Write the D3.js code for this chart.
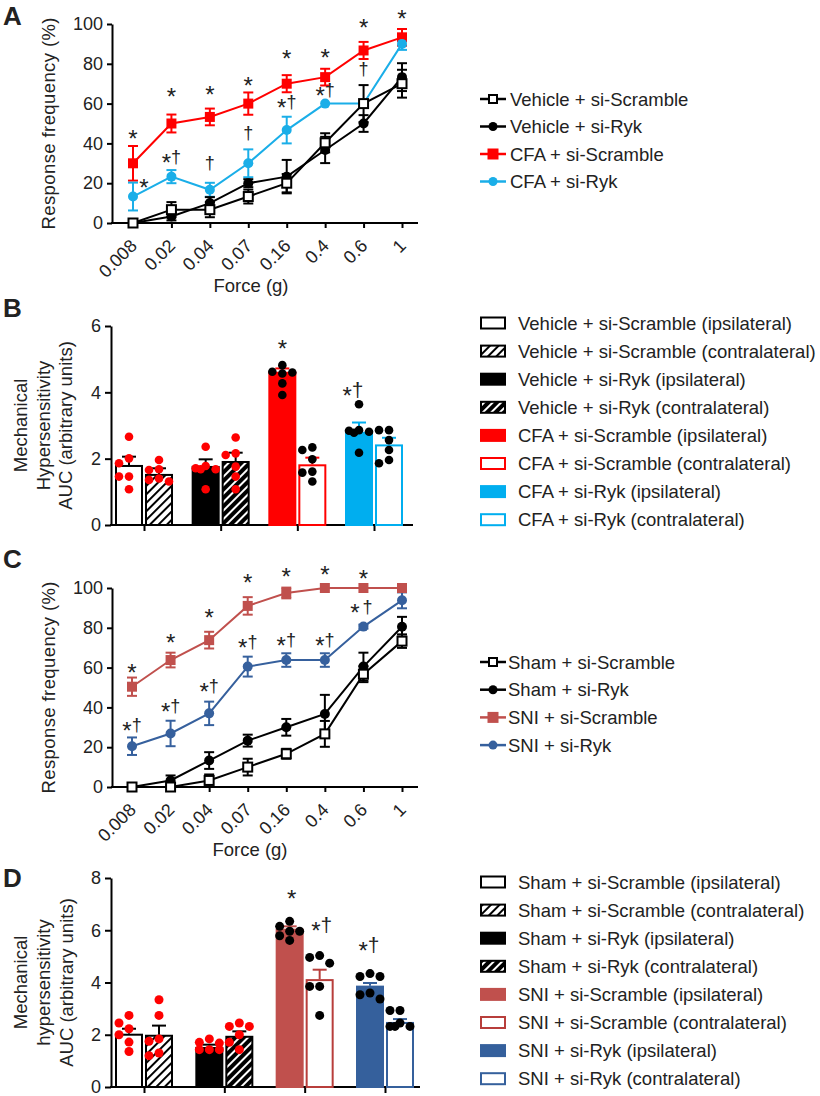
<!DOCTYPE html>
<html><head><meta charset="utf-8">
<script src="https://cdn.jsdelivr.net/npm/d3@7/dist/d3.min.js"></script>
<style>
html,body{margin:0;padding:0;background:#fff}
svg text{font-family:Arial,"Liberation Sans",Helvetica,sans-serif;fill:#222}
</style></head><body>
<svg id="chart" width="820" height="1096"></svg>
<script>
// ================= DATA =================
const forces = ["0.008","0.02","0.04","0.07","0.16","0.4","0.6","1"];
const lineYTicks = [0,20,40,60,80,100];

// Panel A (mean, SEM) - response frequency %
const aNames = ["Vehicle + si-Scramble","Vehicle + si-Ryk","CFA + si-Scramble","CFA + si-Ryk"];
const aVehScr    = [0, 6.7, 6.7, 13.3, 20, 40.3, 60, 70];
const aVehScrSem = [0, 3.8, 3.8, 3.5, 4.6, 4.8, 9.3, 7];
const aVehRyk    = [0, 3.3, 10, 20, 23.3, 36.7, 50, 73.3];
const aVehRykSem = [0, 2, 3, 2, 8.4, 6.6, 4.2, 7];
const aCfaScr    = [30, 50, 53.3, 60, 70, 73.3, 86.7, 93.3];
const aCfaScrSem = [8.7, 4.5, 4.2, 5.6, 4.3, 4.2, 4.3, 4.2];
const aCfaRyk    = [13.3, 23.3, 16.7, 30, 46.7, 60, 60, 90];
const aCfaRykSem = [7, 3.3, 3.5, 7, 6.7, 0, 0, 3];
const aMarksScr  = ["*","*","*","*","*","*","*","*"];
const aMarksRyk  = ["*","*†","†","†","*†","*†","†",""];

// Panel C
const cNames = ["Sham + si-Scramble","Sham + si-Ryk","SNI + si-Scramble","SNI + si-Ryk"];
const cShamScr    = [0, 0, 3.3, 10, 16.7, 26.7, 56.7, 73.3];
const cShamScrSem = [0, 0, 3, 4.2, 2.5, 6.5, 4, 3.4];
const cShamRyk    = [0, 3.3, 13.3, 23.3, 30, 36.7, 60.5, 80.5];
const cShamRykSem = [0, 2.5, 4.2, 3, 4.2, 9.6, 7, 5];
const cSniScr     = [50.4, 63.8, 73.8, 91, 97.5, 100, 100, 100];
const cSniScrSem  = [4.6, 3.7, 4.2, 4.4, 2.7, 0, 0, 0];
const cSniRyk     = [20.5, 26.9, 37, 60.5, 63.8, 63.8, 80.6, 93.8];
const cSniRykSem  = [4.4, 6.4, 5.9, 5, 3.4, 3.4, 1, 4];
const cMarksScr   = ["*","*","*","*","*","*","*",""];
const cMarksRyk   = ["*†","*†","*†","*†","*†","*†","* †",""];

// Panel B (AUC)
const bGroups = ["Vehicle + si-Scramble","Vehicle + si-Ryk","CFA + si-Scramble","CFA + si-Ryk"];
const bLabels = ["Vehicle + si-Scramble (ipsilateral)","Vehicle + si-Scramble (contralateral)",
  "Vehicle + si-Ryk (ipsilateral)","Vehicle + si-Ryk (contralateral)",
  "CFA + si-Scramble (ipsilateral)","CFA + si-Scramble (contralateral)",
  "CFA + si-Ryk (ipsilateral)","CFA + si-Ryk (contralateral)"];
const bTicks = [0,2,4,6];
const bMeans = [1.81, 1.54, 1.78, 1.93, 4.62, 1.83, 2.81, 2.43];
const bSems  = [0.25, 0.17, 0.2, 0.25, 0.1, 0.2, 0.28, 0.2];
const bDots = [
  [2.66,2.01,1.86,1.46,1.46,1.08],
  [1.96,1.68,1.66,1.4,1.36,1.31],
  [2.36,1.78,1.71,1.68,1.68,1.08],
  [2.64,2.16,2.11,1.76,1.46,1.08],
  [4.82,4.62,4.6,4.57,4.27,3.92],
  [2.34,2.26,1.98,1.61,1.58,1.31],
  [3.64,2.86,2.84,2.81,2.78,2.18],
  [2.86,2.86,2.56,2.26,1.96,1.86]];
const bMarks = ["","","","","*","","*†",""];

// Panel D (AUC)
const dGroups = ["Sham + si-Scramble","Sham + si-Ryk","SNI + si-Scramble","SNI + si-Ryk"];
const dLabels = ["Sham + si-Scramble (ipsilateral)","Sham + si-Scramble (contralateral)",
  "Sham + si-Ryk (ipsilateral)","Sham + si-Ryk (contralateral)",
  "SNI + si-Scramble (ipsilateral)","SNI + si-Scramble (contralateral)",
  "SNI + si-Ryk (ipsilateral)","SNI + si-Ryk (contralateral)"];
const dTicks = [0,2,4,6,8];
const dMeans = [2.04, 2.0, 1.53, 1.96, 6.06, 4.13, 3.88, 2.49];
const dSems  = [0.19, 0.35, 0.09, 0.17, 0.09, 0.36, 0.1, 0.11];
const dDots = [
  [2.74,2.45,2.23,2.0,1.72,1.36],
  [3.34,2.74,1.84,1.75,1.3,1.2],
  [1.84,1.71,1.68,1.43,1.43,1.43],
  [2.45,2.32,2.32,2.0,1.71,1.43],
  [6.34,6.15,5.96,5.96,5.79,5.61],
  [5.03,4.96,4.74,3.85,3.85,2.74],
  [4.34,4.23,4.23,3.6,3.53,3.37],
  [2.93,2.93,2.45,2.32,2.32,2.32]];
const dMarks = ["","","","","*","*†","*†",""];

// ================= LAYOUT / ANNOTATION PLACEMENT =================
// levels (in data units) at which significance marks are drawn
const aMarkLvScr = [45.2,66.3,67.2,71.9,85.6,86.1,101.2,105.7];
const aMarkLvRyk = [20.8,33.3,30,45,61,66.8,76.9,0];
const aMarkDxRyk = [11,0,0,0,0,0,0,0];
const cMarkLvScr = [60.3,75.4,87.9,105.5,108.5,109.5,107.5,0];
const cMarkLvRyk = [31.2,40.7,50.8,72.9,73.9,73.9,90.5,0];
const cMarkDxRyk = [0,0,0,0,0,0,-2,0];
const bMarkLv = [0,0,0,0,5.48,0,4.07,0];
const bMarkDx = [0,0,0,0,0,0,-6,0];
const dMarkLv = [0,0,0,0,7.43,6.2,5.44,0];
const dMarkDx = [0,0,0,0,2,2,-1,0];

// ================= DRAW =================
const svg = d3.select("#chart");
svg.append("rect").attr("width",820).attr("height",1096).attr("fill","#fff");
const defs = svg.append("defs");
function hatch(id, bg, fg){
  const p = defs.append("pattern").attr("id",id).attr("patternUnits","userSpaceOnUse")
    .attr("width",6).attr("height",6).attr("patternTransform","rotate(45)");
  p.append("rect").attr("width",6).attr("height",6).attr("fill",bg);
  p.append("line").attr("x1",3).attr("y1",-1).attr("x2",3).attr("y2",7).attr("stroke",fg).attr("stroke-width",2);
}
hatch("hatchW","#fff","#000");
hatch("hatchK","#000","#fff");

const TXT = "#222";
function styleAxis(sel, fs){
  sel.selectAll(".domain").attr("stroke","#000").attr("stroke-width",2);
  sel.selectAll(".tick line").attr("stroke","#000").attr("stroke-width",2);
  sel.selectAll(".tick text").attr("font-size",fs).attr("fill",TXT)
    .attr("font-family","Arial, 'Liberation Sans', sans-serif");
}

function mark(g, x, yc, txt, ss, ds){
  if(!txt) return;
  const hasStar = txt[0] === "*";
  const t = g.append("text").attr("x",x).attr("text-anchor","middle").attr("fill",TXT);
  const starBase = yc + 0.58*ss;
  const dagBase = hasStar ? yc + 1 + 0.3*ds : yc + 0.3*ds;
  t.attr("y", hasStar ? starBase : dagBase);
  let cur = hasStar ? starBase : dagBase;
  for(const ch of txt){
    if(ch === "*"){ t.append("tspan").attr("font-size",ss).attr("dy",starBase-cur).text("*"); cur = starBase; }
    else if(ch === "†"){ t.append("tspan").attr("font-size",ds).attr("dy",dagBase-cur).text("†"); cur = dagBase; }
    else { t.append("tspan").attr("font-size",ds*0.6).text(" "); }
  }
}

function drawMarker(g, type, cx, cy, color, fill, size){
  if(type === "square"){
    const s = size;
    g.append("rect").attr("x",cx-s/2).attr("y",cy-s/2).attr("width",s).attr("height",s)
      .attr("fill",fill).attr("stroke",color).attr("stroke-width",fill==="#fff"?2:0);
  } else {
    g.append("circle").attr("cx",cx).attr("cy",cy).attr("r",size/2).attr("fill",fill);
  }
}

function linePanel(o){
  const g = svg.append("g");
  const x = d3.scalePoint(forces, [o.px0, o.px1]);
  const y = d3.scaleLinear([0,100],[o.y0,o.y1]);
  const ya = g.append("g").attr("transform",`translate(${o.ax0},0)`)
    .call(d3.axisLeft(y).tickValues(lineYTicks).tickFormat(d3.format("d")).tickSize(5).tickSizeOuter(0).tickPadding(4));
  styleAxis(ya, 18);
  const xa = g.append("g").attr("transform",`translate(0,${o.y0})`)
    .call(d3.axisBottom(x).tickSize(5).tickSizeOuter(0).tickFormat(""));
  xa.select(".domain").remove();
  styleAxis(xa, 18);
  g.append("line").attr("x1",o.ax0-1).attr("x2",o.ax1).attr("y1",o.y0).attr("y2",o.y0)
    .attr("stroke","#000").attr("stroke-width",2);
  forces.forEach(f=>{
    g.append("text").attr("transform",`translate(${x(f)+5},${o.y0+24}) rotate(-45)`)
      .attr("text-anchor","end").attr("font-size",18).attr("fill",TXT).text(f);
  });
  g.append("text").attr("transform",`translate(${o.ylx},${(o.y0+o.y1)/2}) rotate(-90)`)
    .attr("text-anchor","middle").attr("dominant-baseline","central").attr("font-size",18.5)
    .attr("textLength",o.ylLen).attr("lengthAdjust","spacing").text("Response frequency (%)");
  g.append("text").attr("x",o.xlx).attr("y",o.xly).attr("text-anchor","middle").attr("font-size",18.5).text("Force (g)");
  g.append("text").attr("x",o.letterX).attr("y",o.letterY).attr("font-size",26).attr("font-weight","bold").attr("fill","#000").text(o.letter);

  const line = d3.line().x((d,i)=>x(forces[i])).y(d=>y(d));
  const order = [2,3,1,0];
  order.forEach(k=>{
    const s = o.series[k], st = o.styles[k];
    g.append("path").attr("d",line(s.m)).attr("fill","none").attr("stroke",st.color).attr("stroke-width",2);
  });
  order.forEach(k=>{
    const s = o.series[k], st = o.styles[k];
    s.m.forEach((m,i)=>{
      const e = s.e[i]; if(!e) return;
      const cx = x(forces[i]);
      g.append("line").attr("x1",cx).attr("x2",cx).attr("y1",y(m-e)).attr("y2",y(m+e)).attr("stroke",st.color).attr("stroke-width",2);
      [m-e,m+e].forEach(v=>g.append("line").attr("x1",cx-5).attr("x2",cx+5).attr("y1",y(v)).attr("y2",y(v)).attr("stroke",st.color).attr("stroke-width",2));
    });
  });
  order.forEach(k=>{
    const s = o.series[k], st = o.styles[k];
    s.m.forEach((m,i)=>drawMarker(g, st.marker, x(forces[i]), y(m), st.color, st.fill, st.marker==="square"?(st.fill==="#fff"?9:10):10));
  });
  o.marks.forEach(mk=>{
    mk.t.forEach((t,i)=>{ if(t) mark(g, x(forces[i]) + mk.dx[i], y(mk.lv[i]), t, 24, 18); });
  });
  o.names.forEach((n,k)=>{
    const st = o.styles[k], ly = o.legY + k*o.legDy;
    g.append("line").attr("x1",480).attr("x2",506).attr("y1",ly).attr("y2",ly).attr("stroke",st.color).attr("stroke-width",2.5);
    drawMarker(g, st.marker, 493, ly, st.color, st.fill, st.marker==="square"?(st.fill==="#fff"?8:11):9);
    g.append("text").attr("x",o.legTx).attr("y",ly).attr("dominant-baseline","central").attr("font-size",18.5).text(n);
  });
}

function swarm(vals, y, r, step){
  const placed = [];
  const idx = vals.map((v,i)=>i).sort((a,b)=>vals[b]-vals[a]);
  const out = new Array(vals.length);
  const cands = [0,-step,step,-step/2,step/2];
  idx.forEach(i=>{
    const py = y(vals[i]);
    let best = null, bestD = -1;
    for(const c of cands){
      let md = Infinity;
      placed.forEach(p=>{ md = Math.min(md, Math.hypot(p[0]-c, p[1]-py)); });
      if(md >= 2*r - 0.5){ best = c; break; }
      if(md > bestD){ bestD = md; best = c; }
    }
    placed.push([best,py]); out[i] = best;
  });
  return out;
}

function barPanel(o){
  const g = svg.append("g");
  const y = d3.scaleLinear([0,o.ymax],[o.y0,o.y1]);
  const xc = d3.scalePoint(o.groups, [o.c0, o.c1]);
  const ya = g.append("g").attr("transform",`translate(${o.ax0},0)`)
    .call(d3.axisLeft(y).tickValues(o.ticks).tickFormat(d3.format("d")).tickSize(6).tickSizeOuter(0).tickPadding(4));
  styleAxis(ya, 18);
  const xa = g.append("g").attr("transform",`translate(0,${o.y0})`)
    .call(d3.axisBottom(xc).tickSize(6).tickSizeOuter(0).tickFormat(""));
  xa.select(".domain").remove();
  styleAxis(xa, 18);
  g.append("line").attr("x1",o.ax0-1).attr("x2",o.ax1).attr("y1",o.y0).attr("y2",o.y0).attr("stroke","#000").attr("stroke-width",2);
  o.ylab.forEach((t,i)=>{
    g.append("text").attr("transform",`translate(${o.ylx[i]},${(o.y0+o.y1)/2}) rotate(-90)`)
      .attr("text-anchor","middle").attr("dominant-baseline","central").attr("font-size",18.5).text(t);
  });
  g.append("text").attr("x",o.letterX).attr("y",o.letterY).attr("font-size",26).attr("font-weight","bold").attr("fill","#000").text(o.letter);

  const bw = o.bw, gap = 2;
  const bx = i => xc(o.groups[Math.floor(i/2)]) + (i%2 ? gap/2 : -gap/2 - bw);
  o.means.forEach((m,i)=>{
    const st = o.styles[i];
    g.append("rect").attr("x",bx(i)+1).attr("y",y(m)+1).attr("width",bw-2).attr("height",y(0)-y(m)-1)
      .attr("fill",st.fill).attr("stroke",st.stroke).attr("stroke-width",2);
  });
  o.means.forEach((m,i)=>{
    const st = o.styles[i], cx = bx(i)+bw/2, e = o.sems[i];
    g.append("line").attr("x1",cx).attr("x2",cx).attr("y1",y(m)).attr("y2",y(m+e)).attr("stroke",st.stroke).attr("stroke-width",2);
    g.append("line").attr("x1",cx-7).attr("x2",cx+7).attr("y1",y(m+e)).attr("y2",y(m+e)).attr("stroke",st.stroke).attr("stroke-width",2);
  });
  o.dots.forEach((vals,i)=>{
    const cx = bx(i)+bw/2;
    const offs = swarm(vals, y, o.r, 10);
    vals.forEach((v,j)=>g.append("circle").attr("cx",cx+offs[j]).attr("cy",y(v)).attr("r",o.r).attr("fill",o.dotColors[i]));
  });
  o.marks.forEach((t,i)=>{ if(t) mark(g, bx(i)+bw/2+o.markDx[i], y(o.markLv[i]), t, 24, 21); });
  o.labels.forEach((n,i)=>{
    const st = o.styles[i], ly = o.legY + i*o.legDy;
    g.append("rect").attr("x",481).attr("y",ly-5.5).attr("width",24).attr("height",11)
      .attr("fill",st.fill).attr("stroke",st.stroke).attr("stroke-width",2);
    g.append("text").attr("x",518).attr("y",ly).attr("dominant-baseline","central").attr("font-size",18.5).text(n);
  });
}

// ---- Panel A ----
linePanel({
  letter:"A", letterX:3, letterY:25,
  px0:133, px1:402, ax0:112, ax1:418, y0:223, y1:24,
  ylx:48, ylLen:212, xlx:251, xly:292,
  names:aNames,
  series:[{m:aVehScr,e:aVehScrSem},{m:aVehRyk,e:aVehRykSem},{m:aCfaScr,e:aCfaScrSem},{m:aCfaRyk,e:aCfaRykSem}],
  styles:[{color:"#000",marker:"square",fill:"#fff"},{color:"#000",marker:"circle",fill:"#000"},
          {color:"#ff0000",marker:"square",fill:"#ff0000"},{color:"#1aaee8",marker:"circle",fill:"#1aaee8"}],
  marks:[{t:aMarksScr,lv:aMarkLvScr,dx:[0,0,0,0,0,0,0,0]},{t:aMarksRyk,lv:aMarkLvRyk,dx:aMarkDxRyk}],
  legY:99, legDy:27.5, legTx:510
});

// ---- Panel B ----
barPanel({
  letter:"B", letterX:3, letterY:317,
  groups:bGroups, labels:bLabels, ticks:bTicks, ymax:6, y0:525, y1:326,
  ax0:111, ax1:413, c0:144, c1:374, bw:28, r:4.3,
  ylab:["Mechanical","Hypersensitivity","AUC (arbitrary units)"], ylx:[20,43,65],
  means:bMeans, sems:bSems, dots:bDots,
  dotColors:["#f00","#f00","#f00","#f00","#000","#000","#000","#000"],
  styles:[{fill:"#fff",stroke:"#000"},{fill:"url(#hatchW)",stroke:"#000"},{fill:"#000",stroke:"#000"},{fill:"url(#hatchK)",stroke:"#000"},
          {fill:"#ff0000",stroke:"#ff0000"},{fill:"#fff",stroke:"#ff0000"},{fill:"#00aeef",stroke:"#00aeef"},{fill:"#fff",stroke:"#00aeef"}],
  marks:bMarks, markLv:bMarkLv, markDx:bMarkDx,
  legY:323, legDy:28.1
});

// ---- Panel C ----
linePanel({
  letter:"C", letterX:3, letterY:568,
  px0:132, px1:402, ax0:112, ax1:418, y0:787, y1:588,
  ylx:48, ylLen:212, xlx:250, xly:856,
  names:cNames,
  series:[{m:cShamScr,e:cShamScrSem},{m:cShamRyk,e:cShamRykSem},{m:cSniScr,e:cSniScrSem},{m:cSniRyk,e:cSniRykSem}],
  styles:[{color:"#000",marker:"square",fill:"#fff"},{color:"#000",marker:"circle",fill:"#000"},
          {color:"#c0504d",marker:"square",fill:"#c0504d"},{color:"#36609d",marker:"circle",fill:"#36609d"}],
  marks:[{t:cMarksScr,lv:cMarkLvScr,dx:[0,0,0,0,0,0,0,0]},{t:cMarksRyk,lv:cMarkLvRyk,dx:cMarkDxRyk}],
  legY:662, legDy:27.7, legTx:508
});

// ---- Panel D ----
barPanel({
  letter:"D", letterX:3, letterY:887,
  groups:dGroups, labels:dLabels, ticks:dTicks, ymax:8, y0:1087, y1:878,
  ax0:111, ax1:420, c0:144, c1:385, bw:28, r:4.5,
  ylab:["Mechanical","hypersensitivity","AUC (arbitrary units)"], ylx:[20,43,66],
  means:dMeans, sems:dSems, dots:dDots,
  dotColors:["#f00","#f00","#f00","#f00","#000","#000","#000","#000"],
  styles:[{fill:"#fff",stroke:"#000"},{fill:"url(#hatchW)",stroke:"#000"},{fill:"#000",stroke:"#000"},{fill:"url(#hatchK)",stroke:"#000"},
          {fill:"#c0504d",stroke:"#c0504d"},{fill:"#fff",stroke:"#b83e3b"},{fill:"#35609c",stroke:"#35609c"},{fill:"#fff",stroke:"#35609c"}],
  marks:dMarks, markLv:dMarkLv, markDx:dMarkDx,
  legY:882, legDy:28.1
});
</script>
</body></html>
